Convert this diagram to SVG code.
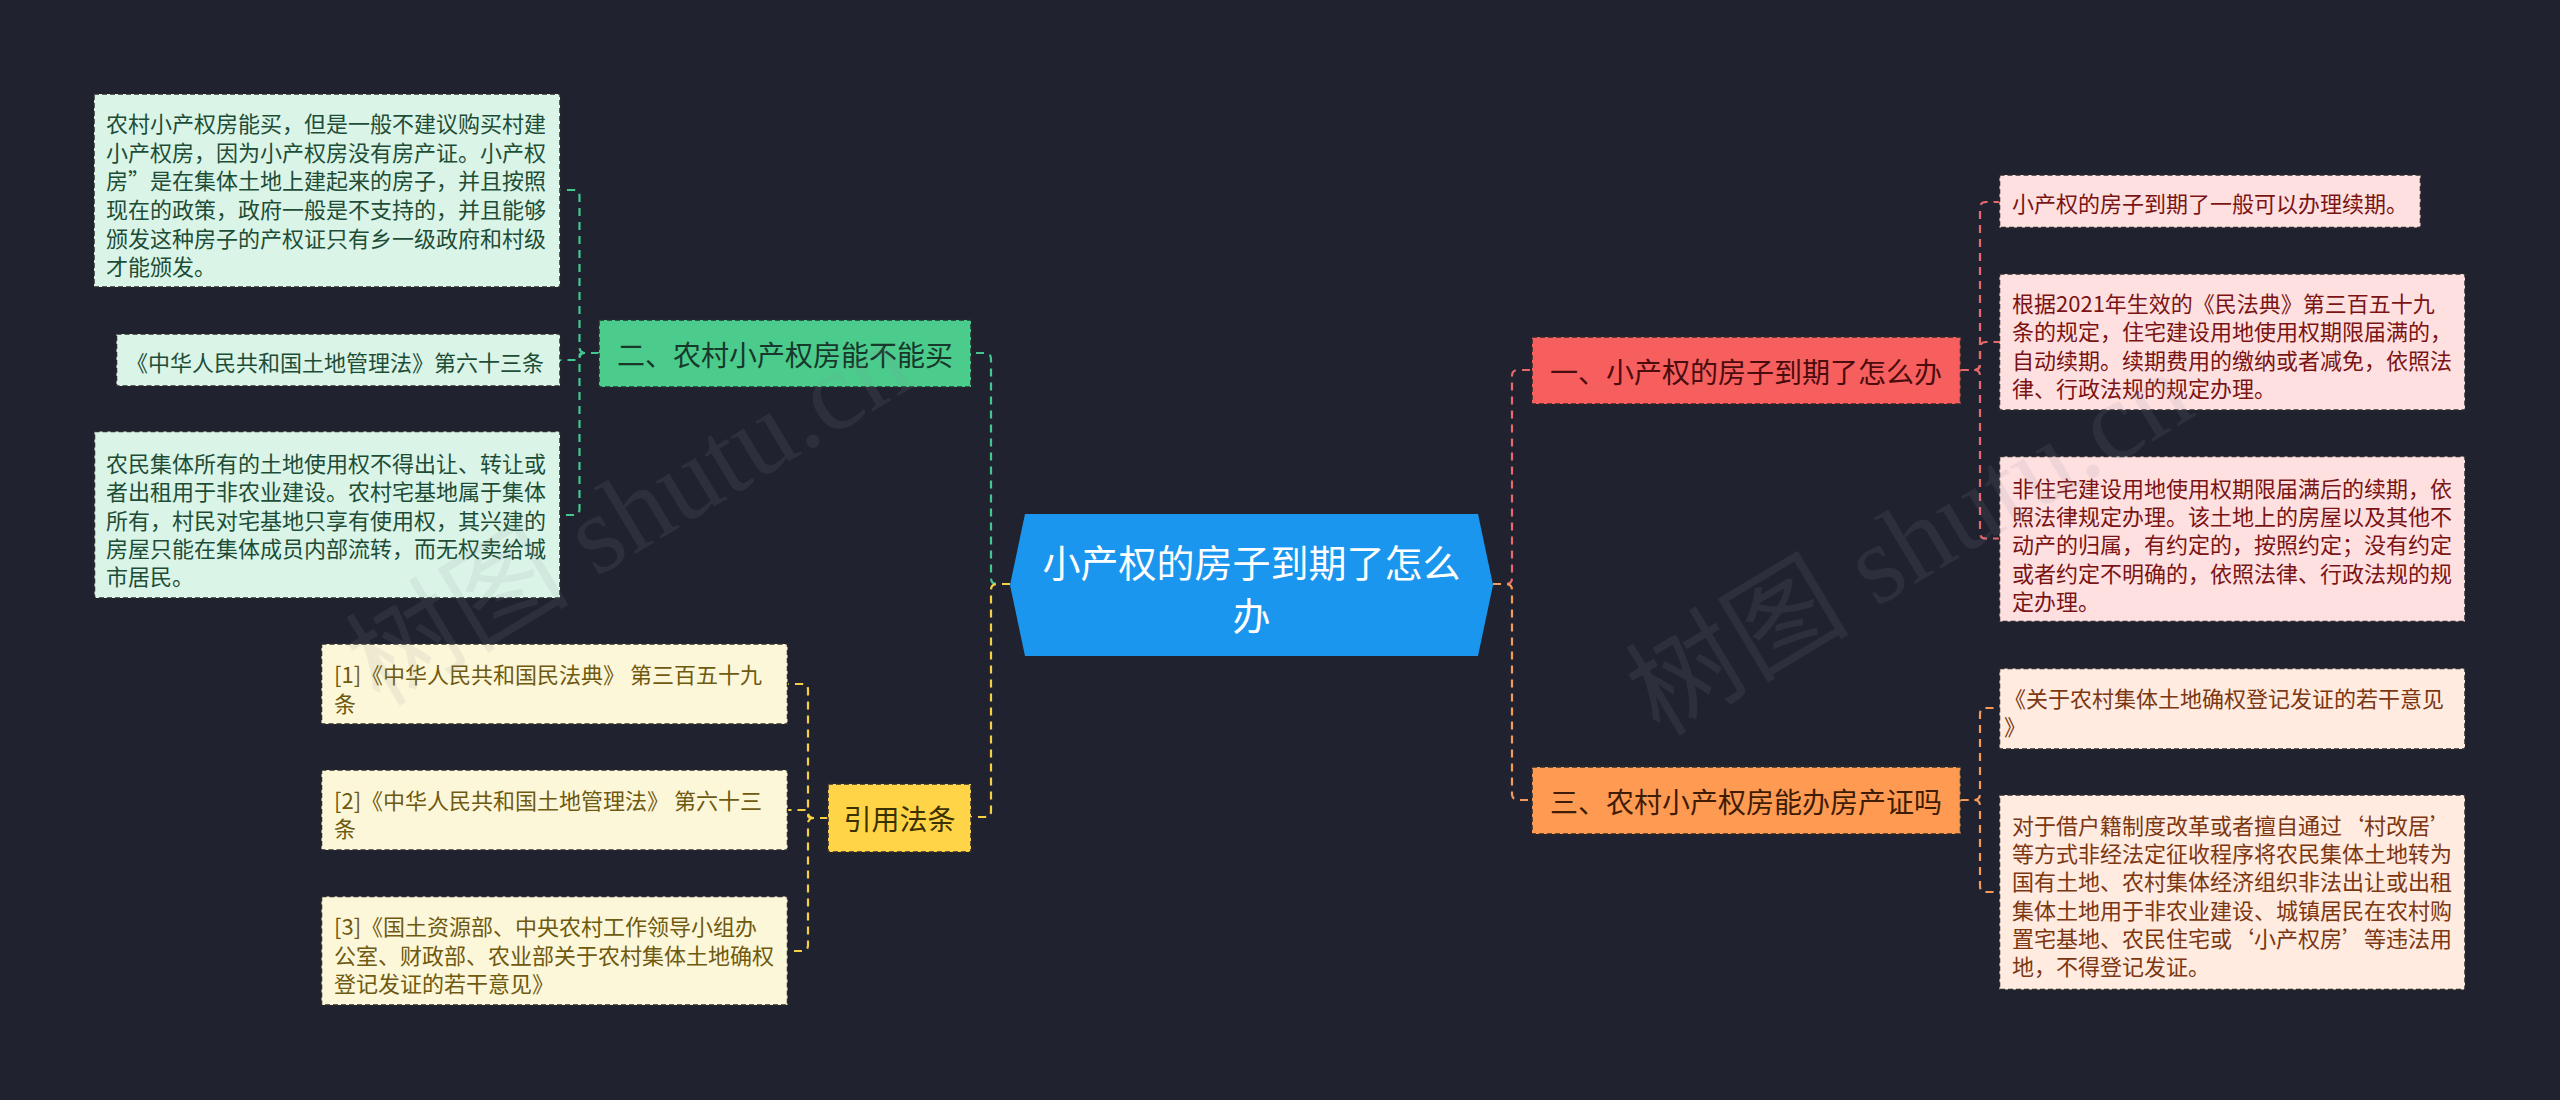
<svg xmlns="http://www.w3.org/2000/svg" width="2560" height="1100" viewBox="0 0 2560 1100">
<style>
text{font-family:"Noto Sans CJK SC","Noto Sans",sans-serif;dominant-baseline:central}
.box{stroke:#2b2b2b;stroke-width:1.5;stroke-dasharray:5 3}
.lf{font-size:22px}
.br{font-size:28px;text-anchor:middle}
.c{fill:none;stroke-width:2.2;stroke-dasharray:8 6}
.cg{stroke:#45c58f}.cy{stroke:#f5cf44}.cr{stroke:#e8696b}.co{stroke:#f49a5a}
.gl{fill:#daf5e8}.gt{fill:#1e4d37}
.yl{fill:#fdf7da}.yt{fill:#6e5a10}
.rl{fill:#ffe0e1}.rt{fill:#7a1414}
.ol{fill:#ffebdf}.ot{fill:#7c3712}
.wm{font-family:"Liberation Serif","Noto Sans CJK SC",serif;font-size:112px;fill:#8a8f99;opacity:0.12}
</style>
<rect x="0" y="0" width="2560" height="1100" fill="#20232f"/>

<g id="connectors">
<path class="c cg" d="M1010 584 H997 Q991 584 991 578 V359 Q991 353 985 353 H971"/>
<path class="c cy" d="M1010 584 H997 Q991 584 991 590 V811 Q991 817 985 817 H971"/>
<path class="c cr" d="M1493 584 H1506 Q1512 584 1512 578 V376 Q1512 370 1518 370 H1532"/>
<path class="c co" d="M1493 584 H1506 Q1512 584 1512 590 V794 Q1512 800 1518 800 H1532"/>
<path class="c cg" d="M599 353 H585.5 Q579.5 353 579.5 347 V196 Q579.5 190 573.5 190 H560"/>
<path class="c cg" d="M599 353 H582.5 Q579.5 353 579.5 356 V357 Q579.5 360 576.5 360 H560"/>
<path class="c cg" d="M599 353 H585.5 Q579.5 353 579.5 359 V509 Q579.5 515 573.5 515 H560"/>
<path class="c cy" d="M828 818 H814 Q808 818 808 812 V690 Q808 684 802 684 H787.5"/>
<path class="c cy" d="M828 818 H811 Q808 818 808 815 V813 Q808 810 805 810 H787.5"/>
<path class="c cy" d="M828 818 H814 Q808 818 808 824 V945 Q808 951 802 951 H787.5"/>
<path class="c cr" d="M1960.5 370 H1974 Q1980 370 1980 364 V208 Q1980 202 1986 202 H1999.5"/>
<path class="c cr" d="M1960.5 370 H1974 Q1980 370 1980 364 V348 Q1980 342 1986 342 H1999.5"/>
<path class="c cr" d="M1960.5 370 H1974 Q1980 370 1980 376 V532.5 Q1980 538.5 1986 538.5 H1999.5"/>
<path class="c co" d="M1960.5 800 H1974 Q1980 800 1980 794 V714 Q1980 708 1986 708 H1999.5"/>
<path class="c co" d="M1960.5 800 H1974 Q1980 800 1980 806 V886 Q1980 892 1986 892 H1999.5"/>
</g>

<g id="root">
<polygon points="1025,514 1478,514 1493,585 1478,656 1025,656 1010,585" fill="#1a96ee"/>
<text x="1251.5" y="560" font-size="38" fill="#ffffff" text-anchor="middle">小产权的房子到期了怎么</text>
<text x="1251.5" y="613" font-size="38" fill="#ffffff" text-anchor="middle">办</text>
</g>

<g id="branch-green">
<rect class="box" x="599" y="320" width="372" height="67" fill="#4bcc8d"/>
<text class="br" x="785" y="354" fill="#17382a">二、农村小产权房能不能买</text>
</g>
<g id="branch-yellow">
<rect class="box" x="828" y="784" width="143" height="68" fill="#ffd446"/>
<text class="br" x="899.5" y="818" fill="#3a3000">引用法条</text>
</g>
<g id="branch-red">
<rect class="box" x="1532" y="337" width="428.5" height="67" fill="#f75f5f"/>
<text class="br" x="1746" y="371" fill="#4a0c0c">一、小产权的房子到期了怎么办</text>
</g>
<g id="branch-orange">
<rect class="box" x="1532" y="767" width="428.5" height="67" fill="#ff9a52"/>
<text class="br" x="1746" y="801" fill="#3e1c05">三、农村小产权房能办房产证吗</text>
</g>

<g id="leaf-g1">
<rect class="box gl" x="94" y="94" width="466" height="193"/>
<text class="lf gt" x="106" y="122">农村小产权房能买，但是一般不建议购买村建</text>
<text class="lf gt" x="106" y="151">小产权房，因为小产权房没有房产证。小产权</text>
<text class="lf gt" x="106" y="179">房”是在集体土地上建起来的房子，并且按照</text>
<text class="lf gt" x="106" y="208">现在的政策，政府一般是不支持的，并且能够</text>
<text class="lf gt" x="106" y="237">颁发这种房子的产权证只有乡一级政府和村级</text>
<text class="lf gt" x="106" y="265">才能颁发。</text>
</g>
<g id="leaf-g2">
<rect class="box gl" x="116.5" y="334" width="443.5" height="52"/>
<text class="lf gt" x="126" y="361">《中华人民共和国土地管理法》第六十三条</text>
</g>
<g id="leaf-g3">
<rect class="box gl" x="94.5" y="431.5" width="465.5" height="166.5"/>
<text class="lf gt" x="106" y="461.5">农民集体所有的土地使用权不得出让、转让或</text>
<text class="lf gt" x="106" y="490">者出租用于非农业建设。农村宅基地属于集体</text>
<text class="lf gt" x="106" y="518.5">所有，村民对宅基地只享有使用权，其兴建的</text>
<text class="lf gt" x="106" y="547">房屋只能在集体成员内部流转，而无权卖给城</text>
<text class="lf gt" x="106" y="575">市居民。</text>
</g>

<g id="leaf-y1">
<rect class="box yl" x="321.5" y="644" width="466" height="80"/>
<text class="lf yt" x="334" y="673">[1]《中华人民共和国民法典》 第三百五十九</text>
<text class="lf yt" x="334" y="702">条</text>
</g>
<g id="leaf-y2">
<rect class="box yl" x="321.5" y="770" width="466" height="80"/>
<text class="lf yt" x="334" y="798.5">[2]《中华人民共和国土地管理法》 第六十三</text>
<text class="lf yt" x="334" y="827">条</text>
</g>
<g id="leaf-y3">
<rect class="box yl" x="321.5" y="896.5" width="466" height="108.5"/>
<text class="lf yt" x="334" y="925">[3]《国土资源部、中央农村工作领导小组办</text>
<text class="lf yt" x="334" y="953.5">公室、财政部、农业部关于农村集体土地确权</text>
<text class="lf yt" x="334" y="982">登记发证的若干意见》</text>
</g>

<g id="leaf-r1">
<rect class="box rl" x="1999.5" y="175" width="421" height="52.5"/>
<text class="lf rt" x="2012" y="202">小产权的房子到期了一般可以办理续期。</text>
</g>
<g id="leaf-r2">
<rect class="box rl" x="1999.5" y="274" width="465.5" height="136"/>
<text class="lf rt" x="2012" y="301.5">根据2021年生效的《民法典》第三百五十九</text>
<text class="lf rt" x="2012" y="330">条的规定，住宅建设用地使用权期限届满的，</text>
<text class="lf rt" x="2012" y="358.5">自动续期。续期费用的缴纳或者减免，依照法</text>
<text class="lf rt" x="2012" y="387">律、行政法规的规定办理。</text>
</g>
<g id="leaf-r3">
<rect class="box rl" x="1999.5" y="456.5" width="465.5" height="165"/>
<text class="lf rt" x="2012" y="486.5">非住宅建设用地使用权期限届满后的续期，依</text>
<text class="lf rt" x="2012" y="514.5">照法律规定办理。该土地上的房屋以及其他不</text>
<text class="lf rt" x="2012" y="543">动产的归属，有约定的，按照约定；没有约定</text>
<text class="lf rt" x="2012" y="571.5">或者约定不明确的，依照法律、行政法规的规</text>
<text class="lf rt" x="2012" y="600">定办理。</text>
</g>

<g id="leaf-o1">
<rect class="box ol" x="1999.5" y="668.5" width="465.5" height="80.5"/>
<text class="lf ot" x="2004" y="696.5">《关于农村集体土地确权登记发证的若干意见</text>
<text class="lf ot" x="2004" y="725">》</text>
</g>
<g id="leaf-o2">
<rect class="box ol" x="1999.5" y="795" width="465.5" height="194.5"/>
<text class="lf ot" x="2012" y="823.5">对于借户籍制度改革或者擅自通过‘村改居’</text>
<text class="lf ot" x="2012" y="852">等方式非经法定征收程序将农民集体土地转为</text>
<text class="lf ot" x="2012" y="880">国有土地、农村集体经济组织非法出让或出租</text>
<text class="lf ot" x="2012" y="908.5">集体土地用于非农业建设、城镇居民在农村购</text>
<text class="lf ot" x="2012" y="937">置宅基地、农民住宅或‘小产权房’等违法用</text>
<text class="lf ot" x="2012" y="965">地，不得登记发证。</text>
</g>

<g id="watermark">
<text class="wm" transform="translate(360 675) rotate(-31)">树图 shutu.cn</text>
<text class="wm" transform="translate(1640 705) rotate(-31)">树图 shutu.cn</text>
</g>
</svg>
